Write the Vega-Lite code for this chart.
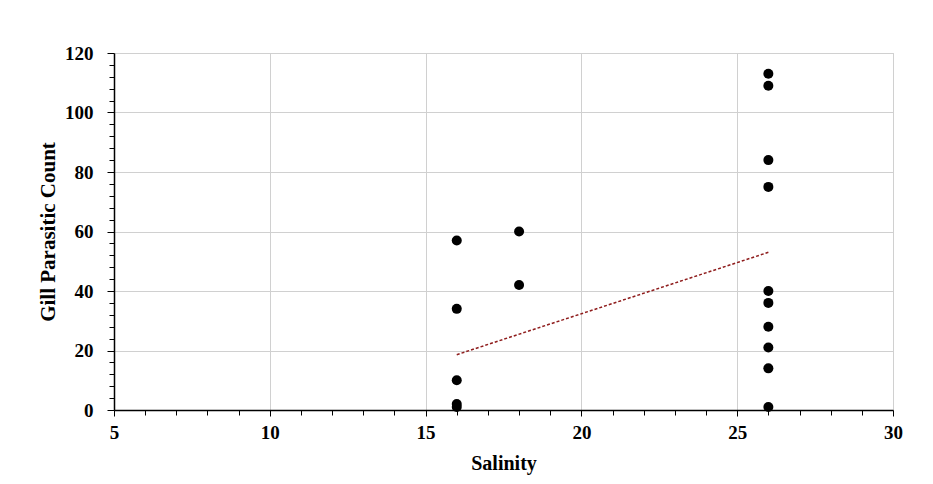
{
  "$schema": "https://vega.github.io/schema/vega-lite/v6.json",
  "autosize": {"type": "none"},
  "width": 779,
  "height": 357,
  "padding": {"left": 114, "top": 53, "right": 40, "bottom": 74},
  "background": "white",
  "config": {
    "view": {"stroke": "#c8c8c8", "strokeWidth": 1},
    "font": "Liberation Serif"
  },
  "datasets": {
    "points": [
      {"Salinity": 16, "Count": 57},
      {"Salinity": 16, "Count": 34},
      {"Salinity": 16, "Count": 10},
      {"Salinity": 16, "Count": 2},
      {"Salinity": 16, "Count": 1},
      {"Salinity": 18, "Count": 60},
      {"Salinity": 18, "Count": 42},
      {"Salinity": 26, "Count": 113},
      {"Salinity": 26, "Count": 109},
      {"Salinity": 26, "Count": 84},
      {"Salinity": 26, "Count": 75},
      {"Salinity": 26, "Count": 40},
      {"Salinity": 26, "Count": 36},
      {"Salinity": 26, "Count": 28},
      {"Salinity": 26, "Count": 21},
      {"Salinity": 26, "Count": 14},
      {"Salinity": 26, "Count": 1}
    ],
    "trend": [
      {"Salinity": 16, "Count": 18.6},
      {"Salinity": 26, "Count": 53}
    ]
  },
  "layer": [
    {
      "data": {"name": "trend"},
      "mark": {"type": "line", "color": "#8f1d1d", "strokeDash": [3, 2], "strokeWidth": 1.5},
      "encoding": {
        "x": {
          "field": "Salinity", "type": "quantitative",
          "scale": {"domain": [5, 30], "nice": false, "zero": false},
          "axis": {
            "title": "Salinity",
            "titleFont": "Liberation Serif", "titleFontSize": 20, "titleFontWeight": "bold", "titleColor": "black",
            "titlePadding": 11,
            "tickCount": 1000,
            "format": "d",
            "values": [5,6,7,8,9,10,11,12,13,14,15,16,17,18,19,20,21,22,23,24,25,26,27,28,29,30],
            "labelExpr": "datum.value % 5 === 0 ? datum.label : ''",
            "labelOverlap": false, "labelFlush": false, "labelBound": false,
            "labelFont": "Liberation Serif", "labelFontSize": 19, "labelFontWeight": "bold", "labelColor": "black",
            "labelPadding": 7,
            "domainColor": "black", "domainWidth": 1.5,
            "tickColor": "black",
            "tickSize": {"condition": {"test": "datum.value % 5 === 0", "value": 6}, "value": 5},
            "grid": true,
            "gridColor": "#d0d0d0",
            "gridOpacity": {"condition": {"test": "datum.value % 5 === 0", "value": 1}, "value": 0}
          }
        },
        "y": {
          "field": "Count", "type": "quantitative",
          "scale": {"domain": [0, 120], "nice": false},
          "axis": {
            "title": "Gill Parasitic Count",
            "titleFont": "Liberation Serif", "titleFontSize": 21, "titleFontWeight": "bold", "titleColor": "black",
            "titlePadding": 6,
            "tickCount": 1000,
            "format": "d",
            "values": [0,4,8,12,16,20,24,28,32,36,40,44,48,52,56,60,64,68,72,76,80,84,88,92,96,100,104,108,112,116,120],
            "labelExpr": "datum.value % 20 === 0 ? datum.label : ''",
            "labelOverlap": false, "labelBound": false, "labelFlush": false,
            "labelFont": "Liberation Serif", "labelFontSize": 19, "labelFontWeight": "bold", "labelColor": "black",
            "labelPadding": 14,
            "domainColor": "black", "domainWidth": 1.5,
            "tickColor": "black",
            "tickSize": {"condition": {"test": "datum.value % 20 === 0", "value": 7}, "value": 5},
            "grid": true,
            "gridColor": "#d0d0d0",
            "gridOpacity": {"condition": {"test": "datum.value % 20 === 0", "value": 1}, "value": 0}
          }
        }
      }
    },
    {
      "data": {"name": "points"},
      "mark": {"type": "circle", "color": "black", "opacity": 1, "size": 100},
      "encoding": {
        "x": {"field": "Salinity", "type": "quantitative"},
        "y": {"field": "Count", "type": "quantitative"}
      }
    }
  ]
}
